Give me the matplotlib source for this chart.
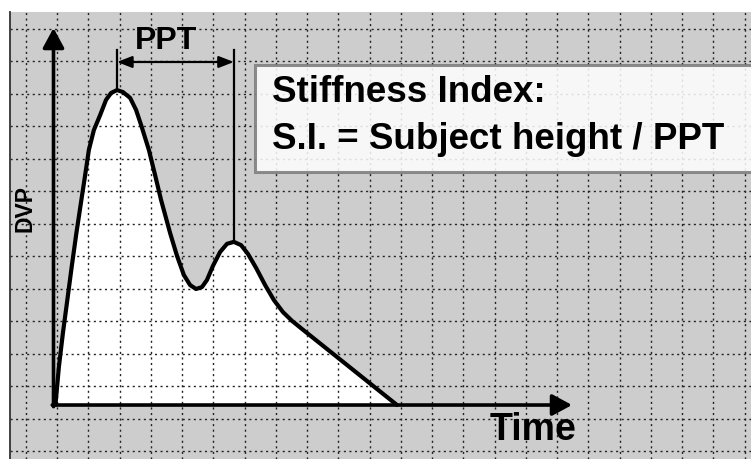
import matplotlib
matplotlib.use("Agg")
import matplotlib.pyplot as plt
from matplotlib.patches import Rectangle

# ---- data (time and DVP in grid units) ----
time_pts = [-0.05, 0.06, 0.19, 0.33, 0.47, 0.62, 0.78, 0.90, 1.02, 1.18, 1.38, 1.57, 1.73,
            1.92, 2.11, 2.34, 2.53, 2.69, 2.94, 3.14, 3.33, 3.62, 3.84, 4.06, 4.26, 4.45,
            4.64, 4.80, 4.99, 5.22, 5.44, 5.66, 5.89, 6.11, 6.37, 6.66, 6.94, 7.23, 7.52,
            7.84, 10.88]
dvp_pts = [0.43, 1.60, 2.65, 3.66, 4.68, 5.72, 6.74, 7.50, 8.28, 8.89, 9.35, 9.82, 10.03,
           10.12, 10.06, 9.88, 9.51, 9.05, 8.28, 7.50, 6.74, 5.72, 5.02, 4.43, 4.12, 4.00,
           4.06, 4.28, 4.71, 5.14, 5.39, 5.45, 5.35, 5.08, 4.65, 4.12, 3.66, 3.29, 3.02,
           2.77, 0.43]
peak1 = (1.92, 10.12)
peak2 = (5.66, 5.45)
grid_t = list(range(-1, 23))
grid_v = list(range(-1, 13))

label_ppt = "PPT"
label_y = "DVP"
label_x = "Time"
box_line1 = "Stiffness Index:"
box_line2 = "S.I. = Subject height / PPT"

plt.rcParams['font.family'] = ['Liberation Sans', 'DejaVu Sans']

fig = plt.figure(figsize=(7.51, 4.59), dpi=100, facecolor='white')
ax = fig.add_axes([10/751, 0, 741/751, 447/459])
ax.set_facecolor('#cdcdcd')
ax.set_xlim(-1.504, 22.208)
ax.set_ylim(-1.2308, 12.523)

ax.set_xticks(grid_t)
ax.set_yticks(grid_v)
ax.tick_params(length=0, labelbottom=False, labelleft=False)
ax.grid(True, color='#222222', linestyle=(0, (1.5, 2.5)), linewidth=1.0)
for s in ['top', 'right', 'bottom']:
    ax.spines[s].set_visible(False)
ax.spines['left'].set_color('#333333')
ax.spines['left'].set_linewidth(1.3)

# curve with white fill
base = dvp_pts[0]
ax.fill_between(time_pts, dvp_pts, base, color='white', zorder=1, linewidth=0)
ax.plot(time_pts, dvp_pts, color='black', lw=3.0, zorder=4,
        solid_joinstyle='round', solid_capstyle='round')

# axes arrows
x0, y0 = -0.112, 0.43
ax.annotate('', xy=(x0, 12.03), xytext=(x0, y0 - 0.05),
            arrowprops=dict(arrowstyle='-|>,head_length=1.2,head_width=0.65',
                            mutation_scale=10, lw=2.6, color='black',
                            shrinkA=0, shrinkB=0), zorder=5)
ax.annotate('', xy=(16.48, y0), xytext=(x0 - 0.04, y0),
            arrowprops=dict(arrowstyle='-|>,head_length=1.2,head_width=0.65',
                            mutation_scale=10, lw=2.6, color='black',
                            shrinkA=0, shrinkB=0), zorder=5)

# PPT markers
top_v = 11.35
ax.plot([peak1[0], peak1[0]], [peak1[1], top_v], color='black', lw=1.6, zorder=4)
ax.plot([peak2[0], peak2[0]], [peak2[1], top_v], color='black', lw=1.6, zorder=4)
ax.annotate('', xy=(peak1[0], 10.985), xytext=(peak2[0], 10.985),
            arrowprops=dict(arrowstyle='<|-|>,head_length=0.9,head_width=0.35',
                            mutation_scale=10, lw=1.6, color='black',
                            shrinkA=0, shrinkB=0), zorder=5)
ax.text(3.49, 11.37, label_ppt, ha='center', va='baseline', fontsize=23,
        fontweight='bold', zorder=6)

# text box
box = Rectangle((6.336, 7.6), 17.0, 3.292, facecolor='white', alpha=0.85,
                edgecolor='#7a7a7a', linewidth=2.2, zorder=3, clip_on=True)
ax.add_patch(box)
ax.text(6.88, 9.754, box_line1, ha='left', va='baseline', fontsize=26.5,
        fontweight='bold', zorder=6)
ax.text(6.88, 8.308, box_line2, ha='left', va='baseline', fontsize=26.5,
        fontweight='bold', zorder=6)

# axis labels
ax.text(-1.024, 6.49, label_y, rotation=90, ha='center', va='center', fontsize=16.5,
        fontweight='bold', zorder=6)
ax.text(13.856, -0.646, label_x, ha='left', va='baseline', fontsize=27,
        fontweight='bold', zorder=6)

fig.savefig('out.png', dpi=100, facecolor='white')
